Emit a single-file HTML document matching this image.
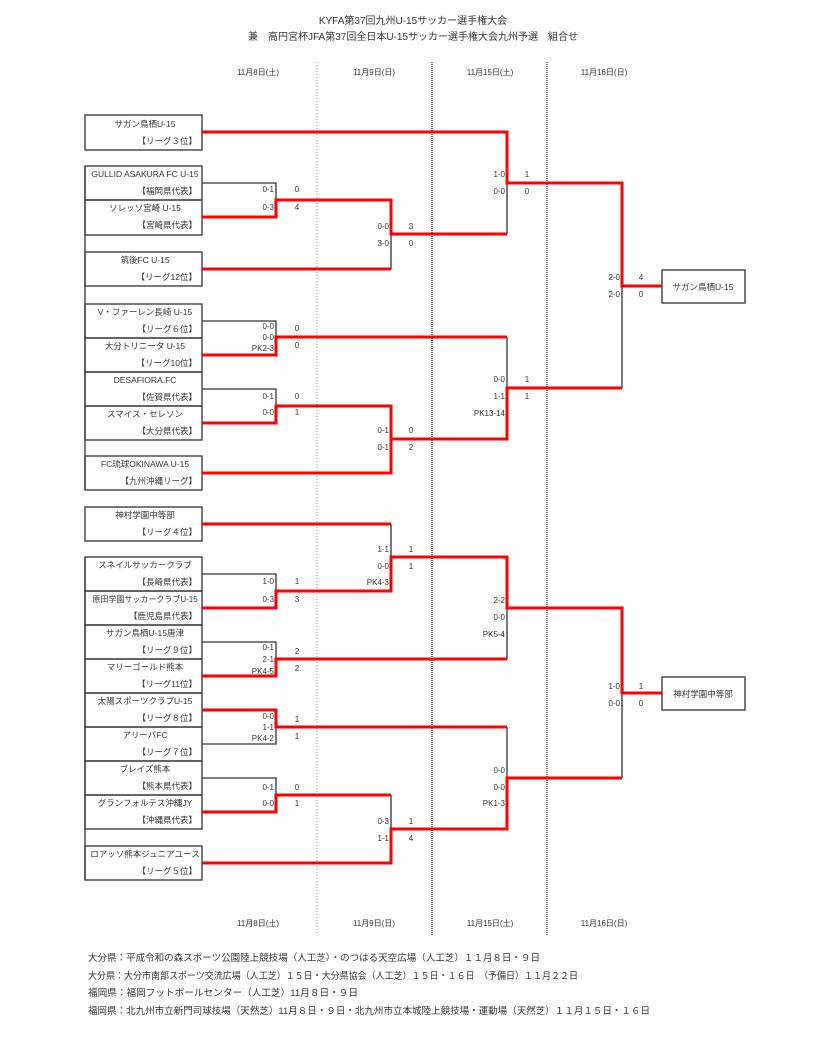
<!DOCTYPE html>
<html><head><meta charset="utf-8"><style>
html,body{margin:0;padding:0;background:#fff;}
svg{display:block;}
text{font-family:"Liberation Sans","Noto Sans CJK JP",sans-serif;fill:#333;}
.n{font-size:8.5px;text-anchor:middle;}
.r{font-size:8.5px;text-anchor:end;}
.s{font-size:9.5px;}
.se{font-size:8px;text-anchor:end;}
.sm{font-size:8px;text-anchor:middle;}
</style></head><body>
<svg width="826" height="1062" viewBox="0 0 826 1062" xmlns="http://www.w3.org/2000/svg">
<text x="413" y="24" class="n" style="font-size:10px">KYFA第37回九州U-15サッカー選手権大会</text>
<text x="413" y="40" class="n" style="font-size:10px">兼　高円宮杯JFA第37回全日本U-15サッカー選手権大会九州予選　組合せ</text>
<g class="sm">
<text x="258" y="75" class="sm">11月8日(土)</text><text x="374" y="75" class="sm">11月9日(日)</text>
<text x="490" y="75" class="sm">11月15日(土)</text><text x="604" y="75" class="sm">11月16日(日)</text>
<text x="258" y="926" class="sm">11月8日(土)</text><text x="374" y="926" class="sm">11月9日(日)</text>
<text x="490" y="926" class="sm">11月15日(土)</text><text x="604" y="926" class="sm">11月16日(日)</text>
</g>
<line x1="317" y1="62" x2="317" y2="935" stroke="#999" stroke-width="1" stroke-dasharray="1,2"/>
<line x1="432" y1="62" x2="432" y2="935" stroke="#444" stroke-width="1.5" stroke-dasharray="1,1"/>
<line x1="547" y1="62" x2="547" y2="935" stroke="#444" stroke-width="1.5" stroke-dasharray="1,1"/>
<g fill="none" stroke="#333" stroke-width="1.3">
<rect x="85" y="115" width="117" height="35"/>
<line x1="85" y1="166" x2="85" y2="490"/>
<rect x="85" y="166" width="117" height="34"/><rect x="85" y="200" width="117" height="35"/>
<rect x="85" y="252" width="117" height="34"/>
<rect x="85" y="304" width="117" height="34"/><rect x="85" y="338" width="117" height="34"/>
<rect x="85" y="372" width="117" height="34"/><rect x="85" y="406" width="117" height="34"/>
<rect x="85" y="456" width="117" height="34"/>
<rect x="85" y="507" width="117" height="34"/>
<line x1="85" y1="557" x2="85" y2="880"/>
<rect x="85" y="557" width="117" height="34"/><rect x="85" y="591" width="117" height="34"/>
<rect x="85" y="625" width="117" height="34"/><rect x="85" y="659" width="117" height="34"/>
<rect x="85" y="693" width="117" height="34"/><rect x="85" y="727" width="117" height="34"/>
<rect x="85" y="761" width="117" height="34"/><rect x="85" y="795" width="117" height="34"/>
<rect x="85" y="846" width="117" height="34"/>
<rect x="662" y="270" width="83" height="33"/>
<rect x="662" y="677" width="83" height="33"/>
</g>
<g fill="none" stroke="#333" stroke-width="1.3">
<polyline points="202,183 276,183 276,200"/>
<polyline points="391,234 391,269"/>
<polyline points="507,183 507,234"/>
<polyline points="202,321 276,321 276,337"/>
<polyline points="202,389 276,389 276,406"/>
<polyline points="507,337 507,388"/>
<polyline points="622,286 622,388"/>
<polyline points="202,574 276,574 276,591"/>
<polyline points="391,524 391,557"/>
<polyline points="202,642 276,642 276,659"/>
<polyline points="507,608 507,659"/>
<polyline points="276,727 276,744 202,744"/>
<polyline points="202,778 276,778 276,795"/>
<polyline points="391,795 391,829"/>
<polyline points="507,727 507,778"/>
<polyline points="622,693 622,778"/>
</g>
<g fill="none" stroke="#f00" stroke-width="3">
<polyline points="202,132 507,132 507,183 622,183 622,286 662,286"/>
<polyline points="202,217 276,217 276,200 391,200 391,234 507,234"/>
<polyline points="202,269 391,269"/>
<polyline points="202,355 276,355 276,337 507,337"/>
<polyline points="202,423 276,423 276,406 391,406 391,473 202,473"/>
<polyline points="391,439 507,439 507,388 622,388"/>
<polyline points="202,524 391,524"/>
<polyline points="202,608 276,608 276,591 391,591 391,557 507,557 507,608 622,608 622,693 662,693"/>
<polyline points="202,676 276,676 276,659 507,659"/>
<polyline points="202,710 276,710 276,727 507,727"/>
<polyline points="202,812 276,812 276,795 391,795"/>
<polyline points="202,863 391,863 391,829 507,829 507,778 622,778"/>
</g>
<g>
<text x="145" y="127" class="n">サガン鳥栖U-15</text><text x="197" y="144" class="r">【リーグ３位】</text>
<text x="145" y="177" class="n">GULLID ASAKURA FC U-15</text><text x="197" y="194" class="r">【福岡県代表】</text>
<text x="145" y="211" class="n">ソレッソ宮崎 U-15</text><text x="197" y="228" class="r">【宮崎県代表】</text>
<text x="145" y="263" class="n">筑後FC U-15</text><text x="197" y="280" class="r">【リーグ12位】</text>
<text x="145" y="315" class="n">V・ファーレン長崎 U-15</text><text x="197" y="332" class="r">【リーグ６位】</text>
<text x="145" y="349" class="n">大分トリニータ U-15</text><text x="197" y="366" class="r">【リーグ10位】</text>
<text x="145" y="383" class="n">DESAFIORA.FC</text><text x="197" y="400" class="r">【佐賀県代表】</text>
<text x="145" y="417" class="n">スマイス・セレソン</text><text x="197" y="434" class="r">【大分県代表】</text>
<text x="145" y="467" class="n">FC琉球OKINAWA U-15</text><text x="197" y="484" class="r">【九州沖縄リーグ】</text>
<text x="145" y="518" class="n">神村学園中等部</text><text x="197" y="535" class="r">【リーグ４位】</text>
<text x="145" y="568" class="n">スネイルサッカークラブ</text><text x="197" y="585" class="r">【長崎県代表】</text>
<text x="145" y="602" class="n" style="font-size:8px">原田学園サッカークラブU-15</text><text x="197" y="619" class="r">【鹿児島県代表】</text>
<text x="145" y="636" class="n">サガン鳥栖U-15唐津</text><text x="197" y="653" class="r">【リーグ９位】</text>
<text x="145" y="670" class="n">マリーゴールド熊本</text><text x="197" y="687" class="r">【リーグ11位】</text>
<text x="145" y="704" class="n">太陽スポーツクラブU-15</text><text x="197" y="721" class="r">【リーグ８位】</text>
<text x="145" y="738" class="n">アリーバFC</text><text x="197" y="755" class="r">【リーグ７位】</text>
<text x="145" y="772" class="n">ブレイズ熊本</text><text x="197" y="789" class="r">【熊本県代表】</text>
<text x="145" y="806" class="n">グランフォルテス沖縄JY</text><text x="197" y="823" class="r">【沖縄県代表】</text>
<text x="145" y="857" class="n">ロアッソ熊本ジュニアユース</text><text x="197" y="874" class="r">【リーグ５位】</text>
<text x="703" y="290" class="n">サガン鳥栖U-15</text>
<text x="703" y="697" class="n">神村学園中等部</text>
</g>
<g>
<text x="274" y="192" class="se">0-1</text><text x="297" y="192" class="sm">0</text>
<text x="274" y="210" class="se">0-3</text><text x="297" y="210" class="sm">4</text>
<text x="389" y="229" class="se">0-0</text><text x="411" y="229" class="sm">3</text>
<text x="389" y="246" class="se">3-0</text><text x="411" y="246" class="sm">0</text>
<text x="505" y="177" class="se">1-0</text><text x="527" y="177" class="sm">1</text>
<text x="505" y="194" class="se">0-0</text><text x="527" y="194" class="sm">0</text>
<text x="620" y="280" class="se">2-0</text><text x="641" y="280" class="sm">4</text>
<text x="620" y="297" class="se">2-0</text><text x="641" y="297" class="sm">0</text>
<text x="274" y="329" class="se">0-0</text><text x="297" y="331" class="sm">0</text>
<text x="274" y="340" class="se">0-0</text>
<text x="274" y="351" class="se">PK2-3</text><text x="297" y="348" class="sm">0</text>
<text x="274" y="399" class="se">0-1</text><text x="297" y="399" class="sm">0</text>
<text x="274" y="415" class="se">0-0</text><text x="297" y="415" class="sm">1</text>
<text x="389" y="433" class="se">0-1</text><text x="411" y="433" class="sm">0</text>
<text x="389" y="450" class="se">0-1</text><text x="411" y="450" class="sm">2</text>
<text x="505" y="382" class="se">0-0</text><text x="527" y="382" class="sm">1</text>
<text x="505" y="399" class="se">1-1</text><text x="527" y="399" class="sm">1</text>
<text x="505" y="416" class="se">PK13-14</text>
<text x="389" y="552" class="se">1-1</text><text x="411" y="552" class="sm">1</text>
<text x="389" y="569" class="se">0-0</text><text x="411" y="569" class="sm">1</text>
<text x="389" y="585" class="se">PK4-3</text>
<text x="274" y="584" class="se">1-0</text><text x="297" y="584" class="sm">1</text>
<text x="274" y="602" class="se">0-3</text><text x="297" y="602" class="sm">3</text>
<text x="505" y="603" class="se">2-2</text>
<text x="505" y="620" class="se">0-0</text>
<text x="505" y="637" class="se">PK5-4</text>
<text x="274" y="650" class="se">0-1</text><text x="297" y="654" class="sm">2</text>
<text x="274" y="662" class="se">2-1</text>
<text x="274" y="674" class="se">PK4-5</text><text x="297" y="671" class="sm">2</text>
<text x="620" y="689" class="se">1-0</text><text x="641" y="689" class="sm">1</text>
<text x="620" y="706" class="se">0-0</text><text x="641" y="706" class="sm">0</text>
<text x="274" y="719" class="se">0-0</text><text x="297" y="722" class="sm">1</text>
<text x="274" y="730" class="se">1-1</text>
<text x="274" y="741" class="se">PK4-2</text><text x="297" y="739" class="sm">1</text>
<text x="505" y="773" class="se">0-0</text>
<text x="505" y="790" class="se">0-0</text>
<text x="505" y="806" class="se">PK1-3</text>
<text x="274" y="790" class="se">0-1</text><text x="297" y="790" class="sm">0</text>
<text x="274" y="806" class="se">0-0</text><text x="297" y="806" class="sm">1</text>
<text x="389" y="824" class="se">0-3</text><text x="411" y="824" class="sm">1</text>
<text x="389" y="841" class="se">1-1</text><text x="411" y="841" class="sm">4</text>
</g>
<g>
<text x="88" y="961" class="s" textLength="452" lengthAdjust="spacingAndGlyphs">大分県：平成令和の森スポーツ公園陸上競技場（人工芝）・のつはる天空広場（人工芝）１１月８日・９日</text>
<text x="88" y="979" class="s" textLength="490" lengthAdjust="spacingAndGlyphs">大分県：大分市南部スポーツ交流広場（人工芝）１５日・大分県協会（人工芝）１５日・１６日　（予備日）１１月２２日</text>
<text x="88" y="996" class="s" textLength="270" lengthAdjust="spacingAndGlyphs">福岡県：福岡フットボールセンター（人工芝）11月８日・９日</text>
<text x="88" y="1014" class="s" textLength="562" lengthAdjust="spacingAndGlyphs">福岡県：北九州市立新門司球技場（天然芝）11月８日・９日・北九州市立本城陸上競技場・運動場（天然芝）１１月１５日・１６日</text>
</g>
</svg>
</body></html>
